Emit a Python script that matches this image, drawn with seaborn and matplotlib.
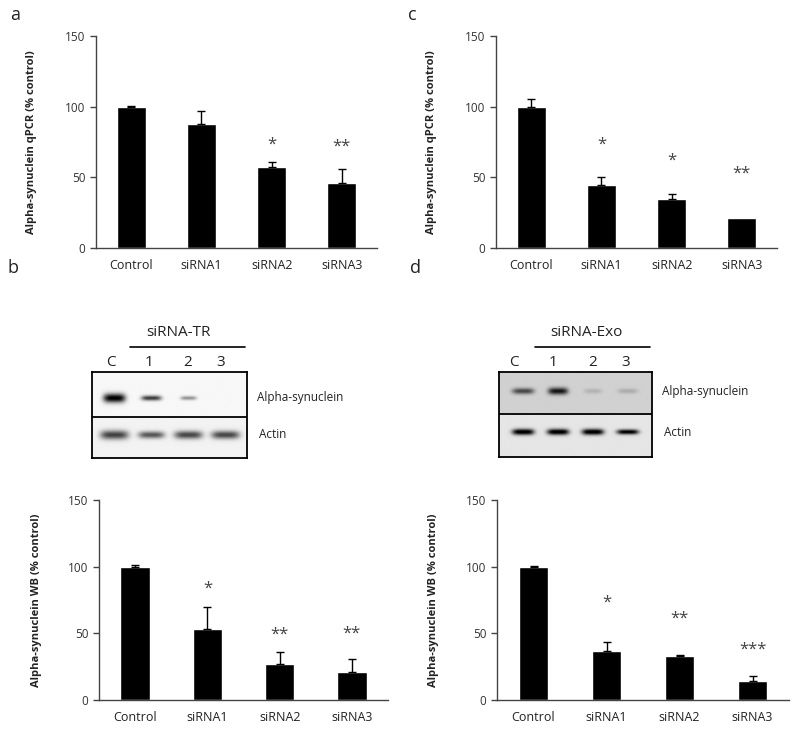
import numpy as np
import pandas as pd
import matplotlib
matplotlib.use("Agg")
import matplotlib.pyplot as plt
import seaborn as sns

# bar chart data
groups = ["Control", "siRNA1", "siRNA2", "siRNA3"]

qpcr_tr = [100, 88, 57, 46]
qpcr_tr_err = [0.5, 9, 4, 10]
qpcr_tr_stars = ["", "", "*", "**"]
qpcr_tr_star_y = [0, 0, 77, 76]

qpcr_exo = [100, 44.5, 34.5, 21]
qpcr_exo_err = [5.5, 6, 4, 0]
qpcr_exo_stars = ["", "*", "*", "**"]
qpcr_exo_star_y = [0, 77, 66, 57]

wb_tr = [100, 53, 27, 20.75]
wb_tr_err = [1, 17, 9, 10.25]
wb_tr_stars = ["", "*", "**", "**"]
wb_tr_star_y = [0, 88, 53, 54]

wb_exo = [100, 37, 33.25, 14.25]
wb_exo_err = [0.3, 6.75, 0.2, 3.75]
wb_exo_stars = ["", "*", "**", "***"]
wb_exo_star_y = [0, 77.5, 65.5, 42]

# western blot band intensities per lane (C, 1, 2, 3)
lanes = ["C", "1", "2", "3"]
tr_syn_band = [1.0, 0.75, 0.4, 0.0]
tr_actin_band = [0.7, 0.62, 0.68, 0.68]
exo_syn_band = [0.55, 0.75, 0.12, 0.15]
exo_actin_band = [1.0, 1.0, 1.0, 0.95]

W, H = 800, 734
FONT = ["Open Sans", "DejaVu Sans"]

sns.set_style("white")
plt.rcParams["font.family"] = FONT


def px_axes(fig, left, top, right, bottom):
    return fig.add_axes([left / W, (H - bottom) / H, (right - left) / W, (bottom - top) / H])


def bar_panel(ax, vals, errs, stars, star_y, ylabel, label_x):
    df = pd.DataFrame({"group": groups, "value": vals})
    sns.barplot(data=df, x="group", y="value", color="black", saturation=1,
                width=0.41, errorbar=None, ax=ax)
    x = np.arange(len(groups))
    has_err = np.array(errs) > 0
    ax.errorbar(x[has_err], np.array(vals)[has_err],
                yerr=[np.zeros(has_err.sum()), np.array(errs)[has_err]], fmt="none",
                ecolor="black", elinewidth=1, capsize=3, capthick=1)
    for xi, s, sy in zip(x, stars, star_y):
        if s:
            ax.annotate(s, (xi, sy), xytext=(0, -7), textcoords="offset points",
                        ha="center", va="baseline", fontsize=12, color="#444444")
    ax.set_xlim(-0.5, 3.5)
    ax.set_ylim(0, 150)
    ax.set_yticks([0, 50, 100, 150])
    ax.set_xlabel("")
    ax.set_ylabel(ylabel, fontsize=8, fontweight="bold", color="#222222")
    ax.yaxis.set_label_coords(label_x, 0.5)
    sns.despine(ax=ax)
    for sp in ["left", "bottom"]:
        ax.spines[sp].set_color("#444444")
        ax.spines[sp].set_linewidth(1)
    ax.tick_params(axis="y", length=4, width=1, color="#444444", labelsize=8.5,
                   labelcolor="#333333", direction="out", left=True)
    ax.tick_params(axis="x", length=0, labelsize=9, labelcolor="#222222", pad=8)


def blot_panel(ax, syn, actin, lane_px, pad, height, syn_y, actin_y, div_y,
               bg_top, bg_bot, syn_w, syn_h, act_w, act_h, title, title_x,
               line_x, lane_label_x):
    x0, x1 = -pad, len(lanes) - 1 + pad
    xs = np.linspace(x0, x1, 400)
    ys = np.linspace(0, height, 220)
    X, Y = np.meshgrid(xs, ys)
    img = np.where(Y < div_y, bg_top, bg_bot).astype(float)
    for i in range(len(lanes)):
        dx = (X - i) * lane_px
        img += syn[i] * np.exp(-(dx / syn_w[i]) ** 4 - ((Y - syn_y) / syn_h[i]) ** 2)
        img += actin[i] * np.exp(-(dx / act_w[i]) ** 4 - ((Y - actin_y) / act_h[i]) ** 2)
    img = np.clip(img, 0, 1)
    ax.imshow(img, cmap="gray_r", vmin=0, vmax=1, aspect="auto",
              extent=[x0, x1, height, 0], interpolation="bilinear")
    ax.set_xlim(x0, x1)
    ax.set_ylim(height, 0)
    ax.set_xticks([])
    ax.set_yticks([])
    for sp in ax.spines.values():
        sp.set_visible(True)
        sp.set_color("black")
        sp.set_linewidth(1.3)
    ax.axhline(div_y, color="black", lw=1.3)

    tr = ax.get_xaxis_transform()
    ax.text(title_x, 1 + 39 / height, title, transform=tr, ha="center",
            va="center", fontsize=11, color="#222222")
    ax.plot(line_x, [1 + 25 / height] * 2, transform=tr, color="black",
            lw=1.2, clip_on=False)
    for lx, lab in zip(lane_label_x, lanes):
        ax.text(lx, 1 + 2 / height, lab, transform=tr, ha="center", va="bottom",
                fontsize=11, color="#222222")
    ax.text(1 + 10 / (lane_px * (x1 - x0)), 1 - syn_y / height, "Alpha-synuclein",
            transform=ax.transAxes, ha="left", va="center", fontsize=8.5,
            color="#222222")
    ax.text(1 + 12 / (lane_px * (x1 - x0)), 1 - actin_y / height, "Actin",
            transform=ax.transAxes, ha="left", va="center", fontsize=8.5,
            color="#222222")


fig = plt.figure(figsize=(8, 7.34), dpi=100)

ax_a = px_axes(fig, 96, 36, 377, 248)
bar_panel(ax_a, qpcr_tr, qpcr_tr_err, qpcr_tr_stars, qpcr_tr_star_y,
          "Alpha-synuclein qPCR (% control)", -0.21)

ax_c = px_axes(fig, 496, 36, 777, 248)
bar_panel(ax_c, qpcr_exo, qpcr_exo_err, qpcr_exo_stars, qpcr_exo_star_y,
          "Alpha-synuclein qPCR (% control)", -0.21)

ax_b = px_axes(fig, 99, 500, 388, 700)
bar_panel(ax_b, wb_tr, wb_tr_err, wb_tr_stars, wb_tr_star_y,
          "Alpha-synuclein WB (% control)", -0.197)

ax_d = px_axes(fig, 497, 500, 789, 700)
bar_panel(ax_d, wb_exo, wb_exo_err, wb_exo_stars, wb_exo_star_y,
          "Alpha-synuclein WB (% control)", -0.197)

blot_b = px_axes(fig, 92, 372, 247, 458)
blot_panel(blot_b, tr_syn_band, tr_actin_band, lane_px=37, pad=0.6, height=86,
           syn_y=26, actin_y=63, div_y=45, bg_top=0.03, bg_bot=0.05,
           syn_w=[11, 10, 8, 8], syn_h=[4.5, 2.5, 2, 2],
           act_w=[14, 13, 14, 14], act_h=[4.5, 3.5, 4, 4],
           title="siRNA-TR", title_x=1.73, line_x=[0.43, 3.54],
           lane_label_x=[-0.1, 0.95, 2.0, 2.9])

blot_d = px_axes(fig, 499, 372, 652, 457)
blot_panel(blot_d, exo_syn_band, exo_actin_band, lane_px=35, pad=0.69, height=85,
           syn_y=19, actin_y=60, div_y=42, bg_top=0.18, bg_bot=0.10,
           syn_w=[11, 10, 9, 10], syn_h=[3, 3.5, 2.5, 2.5],
           act_w=[11, 11, 11, 11], act_h=[3, 3, 3, 2.5],
           title="siRNA-Exo", title_x=1.82, line_x=[0.34, 3.62],
           lane_label_x=[-0.25, 0.85, 2.0, 2.94])

for lab, (lx, ly) in zip(["a", "c", "b", "d"], [(15, 15), (412, 15), (13, 268), (415, 268)]):
    fig.text(lx / W, 1 - ly / H, lab, fontsize=13, ha="center", va="center",
             color="#222222")

fig.savefig("out.png", dpi=100)
